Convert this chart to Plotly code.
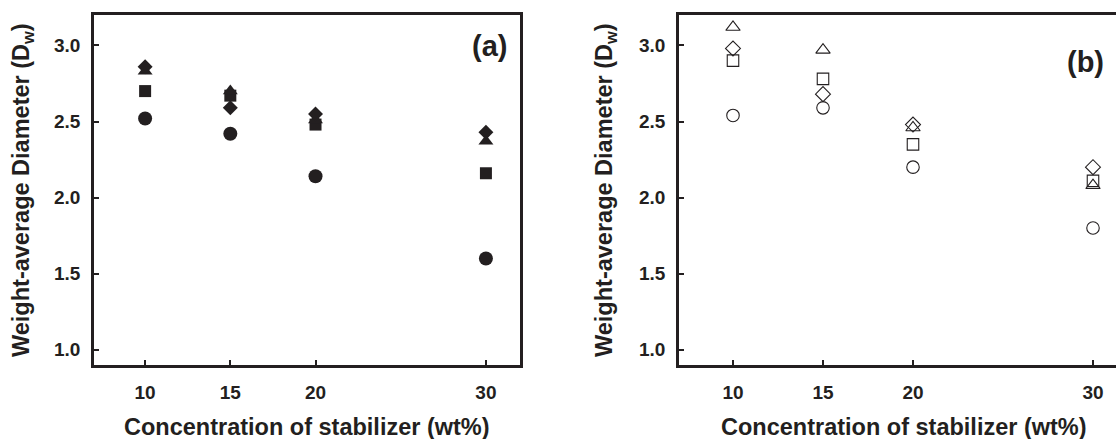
import plotly.graph_objects as go

# ---------------- data ----------------
conc = [10, 15, 20, 30]
tick_x = [10, 15, 20, 30]
tick_x_text = ["10", "15", "20", "30"]
tick_y = [1.0, 1.5, 2.0, 2.5, 3.0]
tick_y_text = ["1.0", "1.5", "2.0", "2.5", "3.0"]

# panel (a) filled markers
a_circle = [2.52, 2.42, 2.14, 1.60]
a_square = [2.70, 2.67, 2.48, 2.16]
a_triangle = [2.83, 2.70, 2.51, 2.37]
a_diamond = [2.86, 2.59, 2.55, 2.43]

# panel (b) open markers
b_circle = [2.54, 2.59, 2.20, 1.80]
b_square = [2.90, 2.78, 2.35, 2.11]
b_triangle = [3.12, 2.97, 2.46, 2.08]
b_diamond = [2.98, 2.68, 2.48, 2.20]

W, H = 1116, 439
INK = "#231f20"
FONT = "Liberation Sans, Arial, Helvetica, sans-serif"

def px(x):
    return x / W

def py(y):
    return 1 - y / H

fig = go.Figure()

filled = [
    (a_circle, "circle", 14),
    (a_square, "square", 12),
    (a_triangle, "triangle-up", 13),
    (a_diamond, "diamond", 11.5),
]
for vals, sym, sz in filled:
    fig.add_trace(go.Scatter(
        x=conc, y=vals, mode="markers", xaxis="x", yaxis="y",
        marker=dict(symbol=sym, size=sz, color=INK, line=dict(width=0)),
        showlegend=False, hoverinfo="x+y"))

opened = [
    (b_circle, "circle-open", 12.5),
    (b_square, "square-open", 11.5),
    (b_triangle, "triangle-up-open", 12.5),
    (b_diamond, "diamond-open", 11.5),
]
for vals, sym, sz in opened:
    fig.add_trace(go.Scatter(
        x=conc, y=vals, mode="markers", xaxis="x2", yaxis="y2",
        marker=dict(symbol=sym, size=sz, color=INK, line=dict(width=1.1, color=INK)),
        showlegend=False, hoverinfo="x+y"))

def tickfont():
    return dict(family=FONT, size=19, color=INK, weight="bold")

def xax(domain, rng, anchor):
    return dict(domain=domain, range=rng, anchor=anchor, mirror=True,
                tickmode="array", tickvals=tick_x, ticktext=tick_x_text,
                ticks="inside", ticklen=5, tickwidth=1.5, tickcolor=INK,
                showline=True, linewidth=2.5, linecolor=INK, showgrid=False,
                zeroline=False, tickfont=tickfont(), ticklabelstandoff=8,
                fixedrange=True)

def yax(anchor, mirror):
    return dict(anchor=anchor, mirror=mirror, tickmode="array",
                tickvals=tick_y, ticktext=tick_y_text, range=[0.9, 3.2],
                ticks="inside", ticklen=5, tickwidth=1.5, tickcolor=INK,
                showline=True, linewidth=2.5, linecolor=INK, showgrid=False,
                zeroline=False, tickfont=tickfont(), ticklabelstandoff=7,
                domain=[py(365), py(15)], fixedrange=True)

fig.update_layout(
    width=W, height=H,
    margin=dict(l=0, r=0, t=0, b=0),
    paper_bgcolor="white", plot_bgcolor="white",
    font=dict(family=FONT, color=INK),
    xaxis=xax([px(94), px(520)], [7, 32], "y"),
    yaxis=yax("x", True),
    xaxis2=xax([px(679), 1.0], [7, 7 + 437 / 18], "y2"),
    yaxis2=yax("x2", False),
)

title_font = dict(family=FONT, size=23.5, color=INK, weight="bold")
xtitle = "Concentration of stabilizer (wt%)"
ytitle = "Weight-average Diameter (D<sub>w</sub>)"
annos = [
    dict(x=px(307), y=py(427), text=xtitle, textangle=0),
    dict(x=px(904), y=py(427), text=xtitle, textangle=0),
    dict(x=px(22), y=py(190), text=ytitle, textangle=-90),
    dict(x=px(605), y=py(190), text=ytitle, textangle=-90),
]
for a in annos:
    fig.add_annotation(xref="paper", yref="paper", showarrow=False,
                       xanchor="center", yanchor="middle", font=title_font, **a)

panel_font = dict(family=FONT, size=29, color=INK, weight="bold")
fig.add_annotation(xref="paper", yref="paper", x=px(489), y=py(46), text="(a)",
                   showarrow=False, xanchor="center", yanchor="middle", font=panel_font)
fig.add_annotation(xref="paper", yref="paper", x=px(1085), y=py(62), text="(b)",
                   showarrow=False, xanchor="center", yanchor="middle", font=panel_font)

fig.write_html("out.html", config={"displayModeBar": False})
